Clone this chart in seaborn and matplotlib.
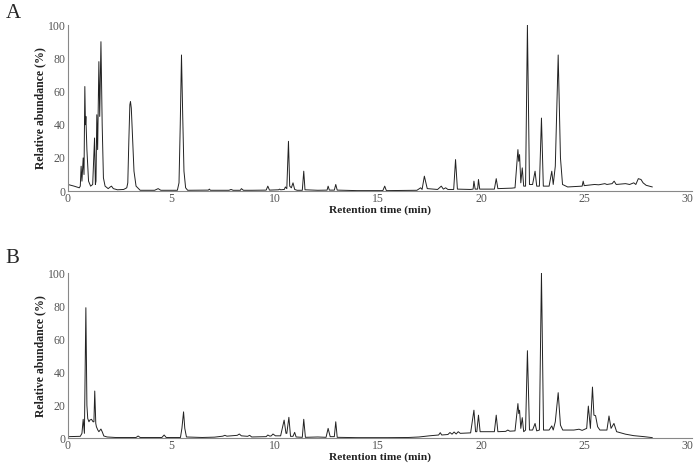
import numpy as np
import pandas as pd
import seaborn as sns
import matplotlib
matplotlib.use('Agg')
import matplotlib.pyplot as plt

# chromatogram A, points (time in min, relative abundance in %)
time_a = [0.0, 0.3, 0.55, 0.6, 0.64, 0.68, 0.74, 0.78, 0.82, 0.85, 0.87, 0.92, 1.0, 1.1, 1.2,
          1.29, 1.33, 1.36, 1.40, 1.44, 1.50, 1.54, 1.60, 1.66, 1.72, 1.8, 1.95, 2.05, 2.11, 2.2,
          2.4, 2.7, 2.85, 2.9, 2.95, 3.0, 3.03, 3.07, 3.12, 3.2, 3.3, 3.5, 4.2, 4.37, 4.5,
          5.3, 5.38, 5.44, 5.5, 5.56, 5.62, 5.7, 5.8, 6.8, 6.85, 6.9, 7.8, 7.9, 8.0, 8.35,
          8.4, 8.5, 8.9, 9.6, 9.68, 9.76, 10.2, 10.25, 10.3, 10.48, 10.53, 10.6, 10.68, 10.74, 10.82,
          10.9, 10.98, 11.1, 11.35, 11.42, 11.48, 12.1, 12.55, 12.6, 12.66, 12.9, 12.97, 13.04, 14.0,
          15.25, 15.34, 15.42, 16.9, 17.08, 17.15, 17.26, 17.4, 17.9, 18.08, 18.18, 18.29, 18.4, 18.68,
          18.77, 18.86, 19.5, 19.62, 19.66, 19.72, 19.84, 19.88, 19.94, 20.65, 20.74, 20.82, 21.5, 21.65,
          21.79, 21.83, 21.87, 21.93, 22.0, 22.07, 22.16, 22.25, 22.35, 22.5, 22.62, 22.7, 22.83, 22.93,
          23.02, 23.3, 23.43, 23.5, 23.6, 23.74, 23.85, 23.95, 24.2, 24.9, 24.95, 25.0, 25.5, 25.7,
          26.0, 26.1, 26.35, 26.45, 26.55, 27.0, 27.2, 27.4, 27.5, 27.62, 27.75, 27.85, 28.0, 28.3]
abund_a = [4.0, 3.0, 2.0, 3, 15, 6, 20, 10, 63, 40, 45, 25, 6, 3, 4,
           32, 4, 6, 46, 25, 78, 45, 90, 40, 8, 3, 1.5, 2.5, 3, 1.5,
           0.8, 1.0, 2, 5, 30, 52, 54, 50, 35, 12, 3, 0.5, 0.5, 1.5, 0.5,
           0.5, 5, 40, 82, 45, 12, 2, 0.5, 0.6, 1.2, 0.5, 0.5, 1.0, 0.5, 0.5,
           1.5, 0.5, 0.5, 0.6, 3, 0.6, 0.8, 1.2, 0.8, 1, 2.5, 1.5, 30, 3, 2,
           5, 1, 0.5, 0.5, 12, 0.8, 0.5, 0.6, 3, 0.6, 0.6, 4, 0.6, 0.3,
           0.3, 3, 0.3, 0.5, 2, 1, 9, 1.5, 1.0, 3, 1.2, 2, 1, 1,
           19, 1.2, 1.0, 1.2, 6, 1.2, 1.2, 7, 1.2, 1.2, 7.5, 1.5, 1.8, 2,
           25, 18, 22, 5, 14, 3, 3, 100, 4, 4, 12, 3, 3, 44,
           3, 3, 12, 4, 15, 82, 20, 4, 2.5, 3, 6, 3.3, 4, 3.8,
           4.5, 4, 4.5, 6, 4, 4.5, 4, 5, 4, 7.5, 7, 5, 3.5, 2.5]

# chromatogram B
time_b = [0.0, 0.6, 0.68, 0.74, 0.8, 0.87, 0.92, 0.96, 1.02, 1.06, 1.14, 1.22, 1.26, 1.30, 1.35,
          1.38, 1.45, 1.5, 1.6, 1.66, 1.74, 1.9, 2.3, 3.3, 3.4, 3.5, 4.55, 4.66, 4.76, 5.45,
          5.52, 5.6, 5.66, 5.74, 6.5, 7.1, 7.5, 7.6, 7.7, 8.2, 8.3, 8.4, 8.7, 8.8, 8.9,
          9.6, 9.68, 9.78, 9.85, 9.93, 10.05, 10.3, 10.47, 10.56, 10.6, 10.7, 10.78, 10.9, 10.98, 11.05,
          11.35, 11.42, 11.5, 12.1, 12.5, 12.6, 12.7, 12.9, 12.97, 13.04, 14.0, 15.5, 16.5, 17.0, 17.5,
          17.95, 18.03, 18.1, 18.4, 18.5, 18.6, 18.7, 18.8, 18.9, 19.0, 19.5, 19.66, 19.74, 19.8, 19.88,
          19.96, 20.65, 20.74, 20.82, 21.2, 21.3, 21.4, 21.65, 21.79, 21.83, 21.87, 21.93, 22.0, 22.07, 22.16,
          22.25, 22.35, 22.5, 22.62, 22.7, 22.83, 22.93, 23.03, 23.3, 23.43, 23.5, 23.6, 23.74, 23.85, 23.96,
          24.5, 24.75, 24.9, 25.12, 25.2, 25.3, 25.4, 25.47, 25.55, 25.65, 25.76, 26.1, 26.2, 26.3, 26.44,
          26.57, 27.0, 27.4, 27.9, 28.3]
abund_b = [1, 1.2, 3, 11.5, 3, 79, 20, 12, 10, 11, 11.5, 10, 10, 28.6, 9,
           7, 5, 4, 5.6, 4, 1.4, 0.8, 0.5, 0.5, 1.4, 0.5, 0.5, 2, 0.5, 0.5,
           6, 16, 6, 0.8, 0.5, 0.7, 1.3, 1.8, 1.3, 1.8, 2.6, 1.5, 1.2, 1.8, 0.8,
           1.0, 2, 1.3, 1.5, 2.6, 1.5, 1.5, 11, 3, 3, 12.7, 1.2, 1.2, 3.6, 0.8,
           0.6, 11.5, 0.6, 0.8, 0.6, 6, 1, 1, 10, 0.6, 0.4, 0.4, 0.5, 0.8, 1.5,
           2, 3.4, 2, 2.3, 3.5, 2.5, 3.8, 2.6, 4, 3, 3.3, 17, 4, 4, 14,
           4, 4, 14, 4, 4.2, 5, 4.3, 4.5, 21, 15, 17, 6, 12.5, 4, 5,
           53, 5, 5, 9, 4.5, 5, 100, 5, 5, 7.5, 5, 10, 27.6, 8, 5,
           5, 5.5, 4.8, 6, 19.5, 6, 31, 14, 13.7, 7, 5, 5, 13.5, 6, 9,
           4, 2.5, 1.6, 1, 0.4]

panels = [('A', time_a, abund_a), ('B', time_b, abund_b)]

sns.set_style("white")
plt.rcParams['font.family'] = ['Liberation Serif', 'DejaVu Serif']

fig = plt.figure(figsize=(7, 4.65), dpi=100)
boxes = [[0.097, 0.589, 0.891, 0.357], [0.097, 0.0574, 0.891, 0.3555]]
letter_y = [0.972, 0.444]

for (name, t, a), box, ly in zip(panels, boxes, letter_y):
    ax = fig.add_axes(box)
    df = pd.DataFrame({'time': t, 'abundance': a})
    sns.lineplot(data=df, x='time', y='abundance', ax=ax, color='#222222',
                 linewidth=0.7, estimator=None, sort=False)
    ax.set_xlim(0, 30.2)
    ax.set_ylim(0, 100)
    ax.set_xticks([0, 5, 10, 15, 20, 25, 30])
    ax.set_yticks([0, 20, 40, 60, 80, 100])
    ax.tick_params(length=0, labelsize=8.5, labelcolor='#555555', pad=1.5)
    for s in ['top', 'right']:
        ax.spines[s].set_visible(False)
    for s in ['left', 'bottom']:
        ax.spines[s].set_color('#888888')
        ax.spines[s].set_linewidth(0.8)
    ax.set_xlabel('Retention time (min)', fontsize=8.2, fontweight='bold', color='#222222')
    ax.set_ylabel('Relative abundance (%)', fontsize=8.5, fontweight='bold', color='#222222')
    ax.xaxis.set_label_coords(0.5, -0.088)
    ax.yaxis.set_label_coords(-0.035, 0.5)
    fig.text(0.008, ly, name, fontsize=15, va='center', ha='left')

fig.savefig('out.png', dpi=100)
